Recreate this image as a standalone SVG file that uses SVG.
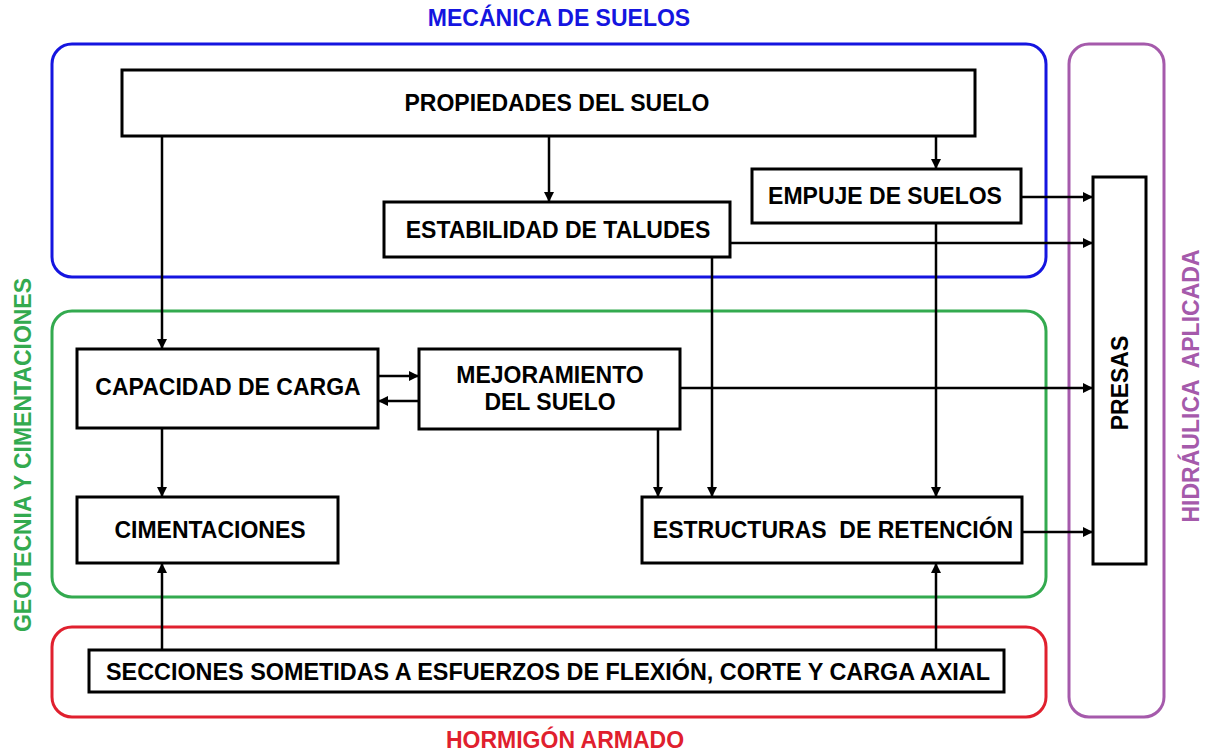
<svg xmlns="http://www.w3.org/2000/svg" width="1210" height="753" viewBox="0 0 1210 753">
<defs>
<marker id="ah" viewBox="0 0 10 10" refX="10" refY="5" markerWidth="4" markerHeight="4" orient="auto" markerUnits="strokeWidth">
<path d="M0,0 L10,5 L0,10 z" fill="#000"/>
</marker>
</defs>
<style>
.node{fill:#fff;stroke:#000;stroke-width:3}
.t{font-family:"Liberation Sans",Arial,sans-serif;font-weight:bold;font-size:23px;fill:#000;text-anchor:middle}
.grp{fill:none;stroke-width:3}
.lbl{font-family:"Liberation Sans",Arial,sans-serif;font-weight:bold;font-size:23px;text-anchor:middle}
.c{fill:none;stroke:#000;stroke-width:2.5;marker-end:url(#ah)}
</style>
<rect width="1210" height="753" fill="#fff"/>
<g id="groups">
<rect class="grp" x="52" y="44" width="994" height="233" rx="20" stroke="#1515e0"/>
<rect class="grp" x="52" y="311" width="994" height="286" rx="20" stroke="#33aa4f"/>
<rect class="grp" x="52" y="627" width="994" height="90" rx="20" stroke="#e0202e"/>
<rect class="grp" x="1069" y="44" width="95" height="673" rx="20" stroke="#a55aab"/>
<text class="lbl" x="559" y="26" fill="#1515e0">MECÁNICA DE SUELOS</text>
<text class="lbl" x="565" y="748" fill="#e0202e" font-size="22">HORMIGÓN ARMADO</text>
<text class="lbl" transform="translate(31,455) rotate(-90)" fill="#33aa4f" textLength="354" lengthAdjust="spacingAndGlyphs">GEOTECNIA Y CIMENTACIONES</text>
<text class="lbl" transform="translate(1199,386) rotate(-90)" fill="#a55aab" xml:space="preserve">HIDRÁULICA  APLICADA</text>
</g>
<g id="connectors">
<line class="c" x1="162" y1="136" x2="162" y2="349"/>
<line class="c" x1="549" y1="136" x2="549" y2="202"/>
<line class="c" x1="936" y1="136" x2="936" y2="169"/>
<line class="c" x1="1021" y1="197" x2="1093" y2="197"/>
<line class="c" x1="730" y1="243" x2="1093" y2="243"/>
<line class="c" x1="680" y1="388" x2="1093" y2="388"/>
<line class="c" x1="1022" y1="532" x2="1093" y2="532"/>
<line class="c" x1="378" y1="376" x2="419" y2="376"/>
<line class="c" x1="419" y1="401" x2="378" y2="401"/>
<line class="c" x1="162" y1="428" x2="162" y2="497"/>
<line class="c" x1="658" y1="429" x2="658" y2="497"/>
<line class="c" x1="712" y1="257" x2="712" y2="497"/>
<line class="c" x1="936" y1="223" x2="936" y2="497"/>
<line class="c" x1="162" y1="650" x2="162" y2="563"/>
<line class="c" x1="936" y1="650" x2="936" y2="563"/>
</g>
<g id="n-propiedades">
<rect class="node" x="122" y="70" width="853" height="66"/>
<text class="t" x="557" y="111">PROPIEDADES DEL SUELO</text>
</g>
<g id="n-estabilidad">
<rect class="node" x="384" y="202" width="346" height="55"/>
<text class="t" x="558" y="238">ESTABILIDAD DE TALUDES</text>
</g>
<g id="n-empuje">
<rect class="node" x="752" y="169" width="269" height="54"/>
<text class="t" x="885" y="204">EMPUJE DE SUELOS</text>
</g>
<g id="n-presas">
<rect class="node" x="1093" y="177" width="53" height="387"/>
<text class="t" transform="translate(1128,383) rotate(-90)">PRESAS</text>
</g>
<g id="n-capacidad">
<rect class="node" x="77" y="349" width="301" height="79"/>
<text class="t" x="228" y="395">CAPACIDAD DE CARGA</text>
</g>
<g id="n-mejoramiento">
<rect class="node" x="419" y="349" width="261" height="80"/>
<text class="t" x="550" y="383">MEJORAMIENTO</text>
<text class="t" x="550" y="410">DEL SUELO</text>
</g>
<g id="n-cimentaciones">
<rect class="node" x="77" y="497" width="261" height="66"/>
<text class="t" x="210" y="538">CIMENTACIONES</text>
</g>
<g id="n-estructuras">
<rect class="node" x="642" y="497" width="380" height="66"/>
<text class="t" x="833" y="538" xml:space="preserve">ESTRUCTURAS  DE RETENCIÓN</text>
</g>
<g id="n-secciones">
<rect class="node" x="89" y="650" width="915" height="42"/>
<text class="t" x="548" y="680" textLength="884" lengthAdjust="spacingAndGlyphs">SECCIONES SOMETIDAS A ESFUERZOS DE FLEXIÓN, CORTE Y CARGA AXIAL</text>
</g>
</svg>
